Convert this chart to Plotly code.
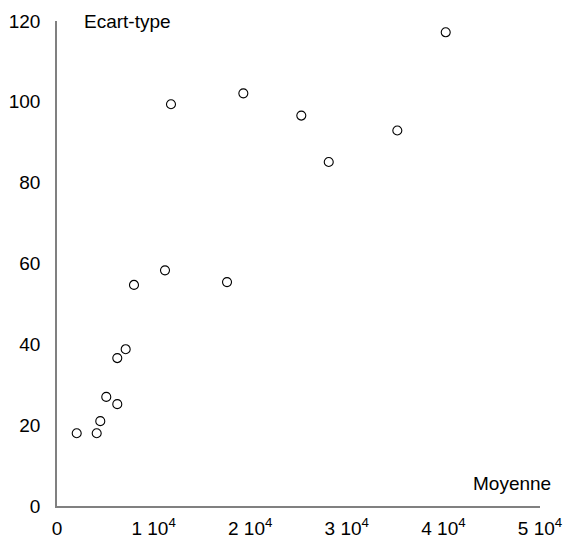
import plotly.graph_objects as go

moyenne = [2040, 4110, 4480, 5100, 6240, 6240, 7110, 7970, 11180, 11800,
           17600, 19290, 25290, 28130, 35230, 40240]
ecart_type = [18.0, 18.0, 21.0, 27.0, 25.2, 36.6, 38.8, 54.7, 58.3, 99.4,
              55.4, 102.1, 96.6, 85.1, 92.9, 117.2]

x_tickvals = [0, 10000, 20000, 30000, 40000, 50000]
x_ticktext = ["0", "1 10<sup>4</sup>", "2 10<sup>4</sup>", "3 10<sup>4</sup>",
              "4 10<sup>4</sup>", "5 10<sup>4</sup>"]
y_tickvals = [0, 20, 40, 60, 80, 100, 120]

fig = go.Figure(go.Scatter(
    x=moyenne, y=ecart_type, mode="markers",
    marker=dict(symbol="circle-open", size=9, color="black", line=dict(width=1.1)),
))

font = dict(family="Liberation Sans, Arial, sans-serif", size=19, color="black")
fig.update_layout(
    template="none",
    width=565, height=538,
    margin=dict(l=57, r=25, t=21, b=32, autoexpand=False),
    paper_bgcolor="white", plot_bgcolor="white",
    font=font, showlegend=False,
    xaxis=dict(range=[0, 50000], tickvals=x_tickvals, ticktext=x_ticktext,
               automargin=False,
               showline=True, linecolor="#808080", linewidth=1.5, showgrid=False,
               zeroline=False, ticks="outside", ticklen=4, tickcolor="rgba(0,0,0,0)"),
    yaxis=dict(range=[0, 120], tickvals=y_tickvals, automargin=False,
               showline=True, linecolor="#808080", linewidth=1.5, showgrid=False,
               zeroline=False, ticks="outside", ticklen=11, tickcolor="rgba(0,0,0,0)"),
    annotations=[
        dict(text="Ecart-type", xref="paper", yref="paper", x=0.052, y=1.0,
             xanchor="left", yanchor="middle", showarrow=False, font=font),
        dict(text="Moyenne", xref="paper", yref="paper", x=1.027, y=0.047,
             xanchor="right", yanchor="middle", showarrow=False, font=font),
    ],
)
fig.write_html("out.html")
